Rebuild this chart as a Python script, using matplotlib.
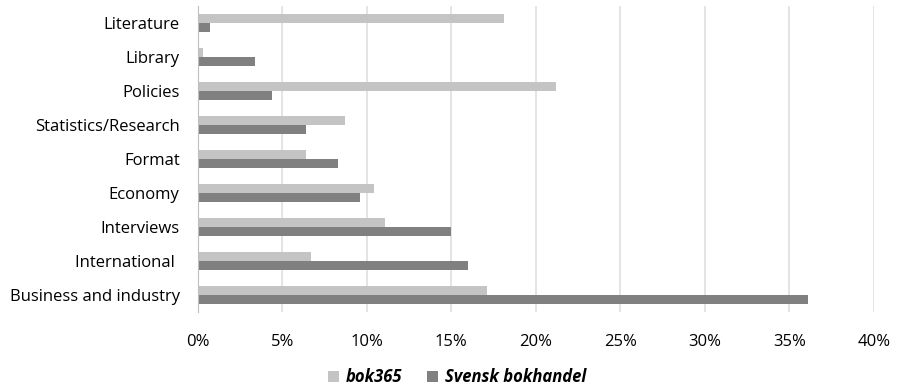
import matplotlib.pyplot as plt
import numpy as np
from matplotlib.ticker import FuncFormatter

categories = ["Literature", "Library", "Policies", "Statistics/Research", "Format",
              "Economy", "Interviews", "International ", "Business and industry"]
bok365 = [18.1, 0.3, 21.2, 8.7, 6.4, 10.4, 11.1, 6.7, 17.1]
svensk = [0.7, 3.4, 4.4, 6.4, 8.3, 9.6, 15.0, 16.0, 36.1]
xticks = [0, 5, 10, 15, 20, 25, 30, 35, 40]

plt.rcParams['font.family'] = ['Open Sans', 'DejaVu Sans']

fig = plt.figure(figsize=(8.98, 3.89), dpi=100)
ax = fig.add_axes([0.2202, 0.1980, 0.7531, 0.7866])

y = np.arange(len(categories))
h = 0.255
ax.barh(y - h / 2, bok365, height=h, color="#c4c4c4", label="bok365")
ax.barh(y + h / 2, svensk, height=h, color="#808080", label="Svensk bokhandel")

ax.set_ylim(len(categories) - 0.5, -0.5)
ax.set_xlim(0, 40)
ax.set_yticks(y)
ax.set_yticklabels(categories, fontsize=12)
ax.set_xticks(xticks)
ax.xaxis.set_major_formatter(FuncFormatter(lambda v, p: f"{v:.0f}%"))
ax.tick_params(axis="x", labelsize=12, length=0, pad=16)
ax.tick_params(axis="y", length=0, pad=13)

ax.grid(axis="x", color="#dcdcdc", linewidth=1.1)
ax.set_axisbelow(True)
for s in ["top", "right", "bottom"]:
    ax.spines[s].set_visible(False)
ax.spines["left"].set_color("#bfbfbf")

leg = fig.legend(loc="center", bbox_to_anchor=(0.509, 0.03), ncol=2, frameon=False,
                 prop={"weight": "bold", "style": "italic", "size": 12},
                 handlelength=0.65, handleheight=0.65, handletextpad=0.4, columnspacing=1.5)

fig.savefig("out.png", dpi=100)
